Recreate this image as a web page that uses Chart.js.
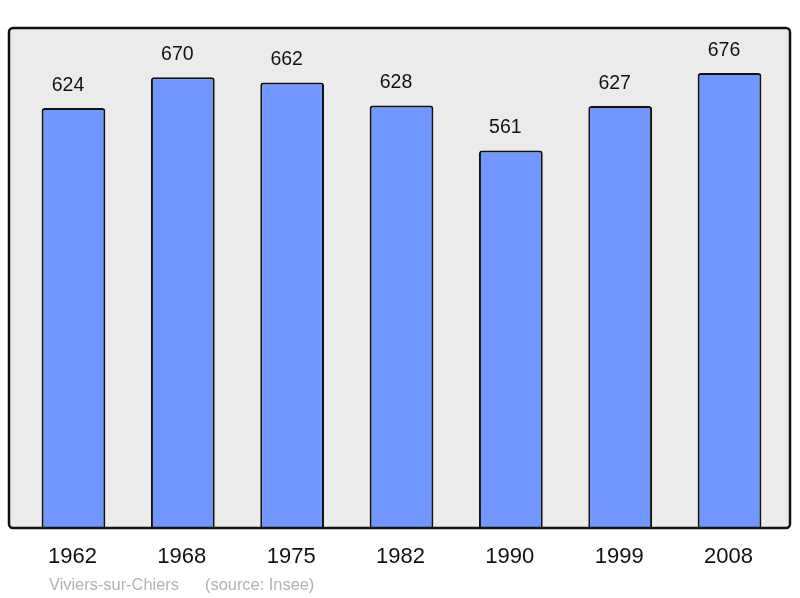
<!DOCTYPE html>
<html>
<head>
<meta charset="utf-8">
<script src="https://cdn.jsdelivr.net/npm/chart.js@4.4.1/dist/chart.umd.min.js"></script>
<style>
  html, body { margin: 0; padding: 0; background: #fff; }
  #wrap { width: 800px; height: 598px; position: relative; }
</style>
</head>
<body>
<div id="wrap"><canvas id="popChart" width="800" height="598"></canvas></div>
<script>
// Datos del gráfico
const years = ["1962", "1968", "1975", "1982", "1990", "1999", "2008"];
const population = [624, 670, 662, 628, 561, 627, 676];
const yMax = 743;
const townName = "Viviers-sur-Chiers";
const sourceText = "(source: Insee)";

// Fondo gris con borde redondeado detrás de las barras
const frameBox = {
  id: "frameBox",
  beforeDatasetsDraw(chart) {
    const { ctx, chartArea } = chart;
    const l = 9, r = 790, t = chartArea.top, b = chartArea.bottom;
    ctx.save();
    ctx.beginPath();
    ctx.roundRect(l, t, r - l, b - t, 4);
    ctx.fillStyle = "#ebebeb";
    ctx.fill();
    ctx.restore();
  },
  afterDatasetsDraw(chart) {
    const { ctx, chartArea } = chart;
    const l = 9, r = 790, t = chartArea.top, b = chartArea.bottom;
    ctx.save();
    ctx.beginPath();
    ctx.roundRect(l, t, r - l, b - t, 4);
    ctx.lineWidth = 2.5;
    ctx.strokeStyle = "#111";
    ctx.stroke();
    ctx.restore();
  },
};

// Etiquetas: valores encima, años debajo y pie de página
const labelsPlugin = {
  id: "labelsPlugin",
  afterDraw(chart) {
    const { ctx, chartArea } = chart;
    const meta = chart.getDatasetMeta(0);
    ctx.save();
    ctx.fillStyle = "#111";
    ctx.textAlign = "center";
    ctx.textBaseline = "middle";
    meta.data.forEach((bar, i) => {
      ctx.font = "19.5px 'Liberation Sans', Arial, sans-serif";
      ctx.fillText(String(population[i]), bar.x - 5.5, bar.y - 22.5);
      ctx.font = "22px 'Liberation Sans', Arial, sans-serif";
      ctx.fillText(years[i], bar.x - 1, chartArea.bottom + 29);
    });
    ctx.fillStyle = "#b3b3b3";
    ctx.textAlign = "left";
    ctx.font = "16.4px 'Liberation Sans', Arial, sans-serif";
    ctx.fillText(townName, 49, 585);
    ctx.fillText(sourceText, 205, 585);
    ctx.restore();
  },
};

new Chart(document.getElementById("popChart"), {
  type: "bar",
  data: {
    labels: years,
    datasets: [{
      data: population,
      backgroundColor: "#7096ff",
      borderColor: "#111",
      borderWidth: 2,
      borderSkipped: "bottom",
      borderRadius: { topLeft: 3, topRight: 3 },
      barPercentage: 0.583,
      categoryPercentage: 1,
    }],
  },
  options: {
    responsive: false,
    animation: false,
    layout: { padding: { left: 18.8, right: 15.8, top: 28, bottom: 70 } },
    scales: {
      x: { display: false },
      y: { display: false, min: 0, max: yMax },
    },
    plugins: {
      legend: { display: false },
      tooltip: { enabled: false },
    },
  },
  plugins: [frameBox, labelsPlugin],
});
</script>
</body>
</html>
